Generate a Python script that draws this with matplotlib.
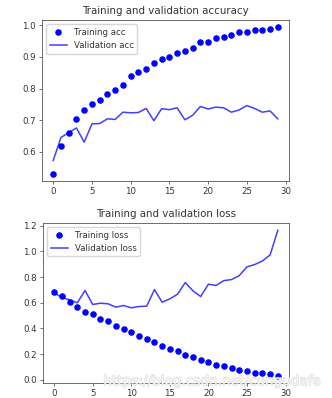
import matplotlib
matplotlib.use('Agg')
import matplotlib.pyplot as plt
import matplotlib.patheffects as pe

epochs = list(range(30))

train_acc = [0.530, 0.618, 0.658, 0.702, 0.731, 0.750, 0.764, 0.784, 0.796, 0.812,
             0.840, 0.853, 0.862, 0.881, 0.893, 0.900, 0.914, 0.918, 0.928, 0.946,
             0.949, 0.961, 0.964, 0.970, 0.980, 0.978, 0.985, 0.985, 0.988, 0.994]
val_acc = [0.572, 0.645, 0.660, 0.675, 0.630, 0.688, 0.689, 0.704, 0.702, 0.725,
           0.723, 0.724, 0.737, 0.698, 0.736, 0.733, 0.739, 0.701, 0.715, 0.743,
           0.735, 0.741, 0.739, 0.725, 0.732, 0.746, 0.737, 0.725, 0.729, 0.704]

train_loss = [0.687, 0.653, 0.607, 0.565, 0.531, 0.511, 0.474, 0.454, 0.417, 0.397,
              0.371, 0.337, 0.316, 0.293, 0.264, 0.241, 0.220, 0.194, 0.174, 0.150,
              0.140, 0.117, 0.104, 0.091, 0.075, 0.067, 0.054, 0.049, 0.044, 0.031]
val_loss = [0.677, 0.640, 0.622, 0.599, 0.695, 0.586, 0.596, 0.591, 0.565, 0.578,
            0.560, 0.570, 0.573, 0.702, 0.604, 0.630, 0.666, 0.757, 0.692, 0.648,
            0.744, 0.734, 0.772, 0.780, 0.811, 0.879, 0.897, 0.925, 0.972, 1.164]

plt.rcParams['font.size'] = 6.2
plt.rcParams['text.color'] = '#333333'
plt.rcParams['xtick.color'] = '#333333'
plt.rcParams['ytick.color'] = '#333333'
plt.rcParams['axes.edgecolor'] = '#555555'
plt.rcParams['lines.linewidth'] = 1.1
plt.rcParams['lines.markersize'] = 3.7
plt.rcParams['axes.linewidth'] = 0.6
plt.rcParams['xtick.major.width'] = 0.5
plt.rcParams['ytick.major.width'] = 0.5
plt.rcParams['xtick.major.size'] = 2.2
plt.rcParams['ytick.major.size'] = 2.2
plt.rcParams['xtick.major.pad'] = 2.2
plt.rcParams['ytick.major.pad'] = 2.2

fig = plt.figure(figsize=(3.32, 3.98), dpi=100)

ax1 = fig.add_axes([0.1265, 0.5452, 0.744, 0.4045])
ax1.plot(epochs, train_acc, 'bo', label='Training acc')
ax1.plot(epochs, val_acc, 'b', alpha=0.75, label='Validation acc')
ax1.set_title('Training and validation accuracy', fontsize=7.4, pad=4)
ax1.set_xticks(range(0, 31, 5))
ax1.set_yticks([0.6, 0.7, 0.8, 0.9, 1.0])
ax1.legend(loc='upper left')

ax2 = fig.add_axes([0.1295, 0.0377, 0.741, 0.402])
ax2.plot(epochs, train_loss, 'bo', label='Training loss')
ax2.plot(epochs, val_loss, 'b', alpha=0.75, label='Validation loss')
ax2.set_title('Training and validation loss', fontsize=7.4, pad=4)
ax2.set_xticks(range(0, 31, 5))
ax2.set_yticks([0.0, 0.2, 0.4, 0.6, 0.8, 1.0, 1.2])
ax2.legend(loc='upper left')

# csdn watermark
fig.text(0.97, 0.025, 'https://blog.csdn.net/cungudafa', ha='right', va='bottom',
         fontsize=9.8, color='white', alpha=0.7,
         path_effects=[pe.withStroke(linewidth=1.0, foreground='#d4d4d4')])

fig.savefig('out.png', dpi=100)
